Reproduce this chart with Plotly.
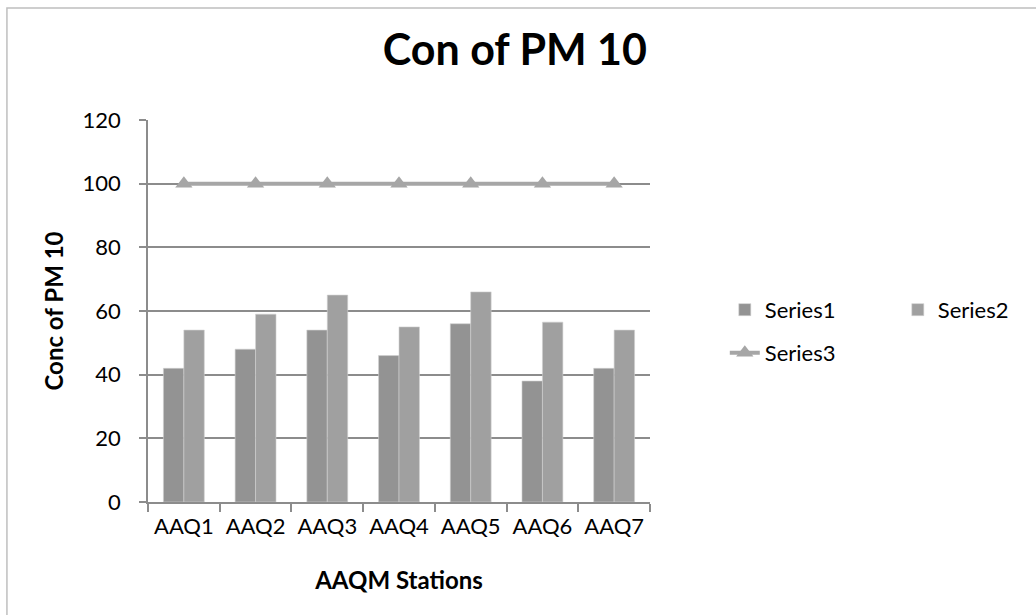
import plotly.graph_objects as go

stations = ["AAQ1", "AAQ2", "AAQ3", "AAQ4", "AAQ5", "AAQ6", "AAQ7"]
series1 = [42, 48, 54, 46, 56, 38, 42]
series2 = [54, 59, 65, 55, 66, 56.5, 54]
series3 = [100, 100, 100, 100, 100, 100, 100]
y_ticks = [0, 20, 40, 60, 80, 100, 120]

FONT = "Lato, 'Open Sans', sans-serif"
GRID = "#8c8c8c"
TICK_SIZE = 22

fig = go.Figure()
fig.add_trace(go.Bar(x=stations, y=series1, name="Series1", legend="legend",
                     marker=dict(color="#939393", line=dict(color="#d0d0d0", width=0.6))))
fig.add_trace(go.Bar(x=stations, y=series2, name="Series2", legend="legend",
                     marker=dict(color="#a0a0a0", line=dict(color="#d0d0d0", width=0.6))))
fig.add_trace(go.Scatter(x=stations, y=series3, name="Series3", mode="lines+markers",
                         legend="legend2",
                         line=dict(color="#a6a6a6", width=4),
                         marker=dict(symbol="triangle-up", size=15, color="#a6a6a6")))

legend_common = dict(xanchor="left", yanchor="middle", font=dict(size=TICK_SIZE),
                     itemwidth=30, tracegroupgap=0, bgcolor="rgba(0,0,0,0)")

fig.update_layout(
    width=1036, height=615,
    margin=dict(l=148, r=386, t=120, b=113, autoexpand=False),
    paper_bgcolor="white", plot_bgcolor="white",
    font=dict(family=FONT, color="black", size=TICK_SIZE),
    title=dict(text="<b>Con of PM 10</b>", x=0.497, xanchor="center",
               yref="container", y=0.919, yanchor="middle",
               font=dict(size=43, family=FONT)),
    barmode="group", bargap=0.43, bargroupgap=0,
    showlegend=True,
    legend=dict(orientation="h", x=1.149, y=0.503, entrywidth=128,
                entrywidthmode="pixels", **legend_common),
    legend2=dict(orientation="v", x=1.149, y=0.39, **legend_common),
    shapes=[dict(type="rect", xref="paper", yref="paper", x0=-0.281, x1=2.0,
                 y0=-1.0, y1=1.293, line=dict(color="#bfbfbf", width=1.5), layer="below")],
)

fig.update_xaxes(
    type="category", showline=True, linecolor=GRID, linewidth=1.5,
    ticks="outside", tickson="boundaries", ticklen=8, tickcolor=GRID, tickwidth=1.5,
    tickfont=dict(size=TICK_SIZE), tickangle=0, ticklabelstandoff=4, showgrid=False,
    title=dict(text="<b>AAQM Stations</b>", font=dict(size=24), standoff=34),
)
fig.update_yaxes(
    range=[0, 120], tickvals=y_ticks, showline=True, linecolor=GRID, linewidth=1.5,
    ticks="outside", ticklen=7, tickcolor=GRID, tickwidth=1.5, ticklabelstandoff=14,
    showgrid=True, gridcolor=GRID, gridwidth=1.5, zeroline=False,
    tickfont=dict(size=TICK_SIZE),
    title=dict(text="<b>Conc of PM 10</b>", font=dict(size=24), standoff=12),
)

fig.write_html("out.html")
